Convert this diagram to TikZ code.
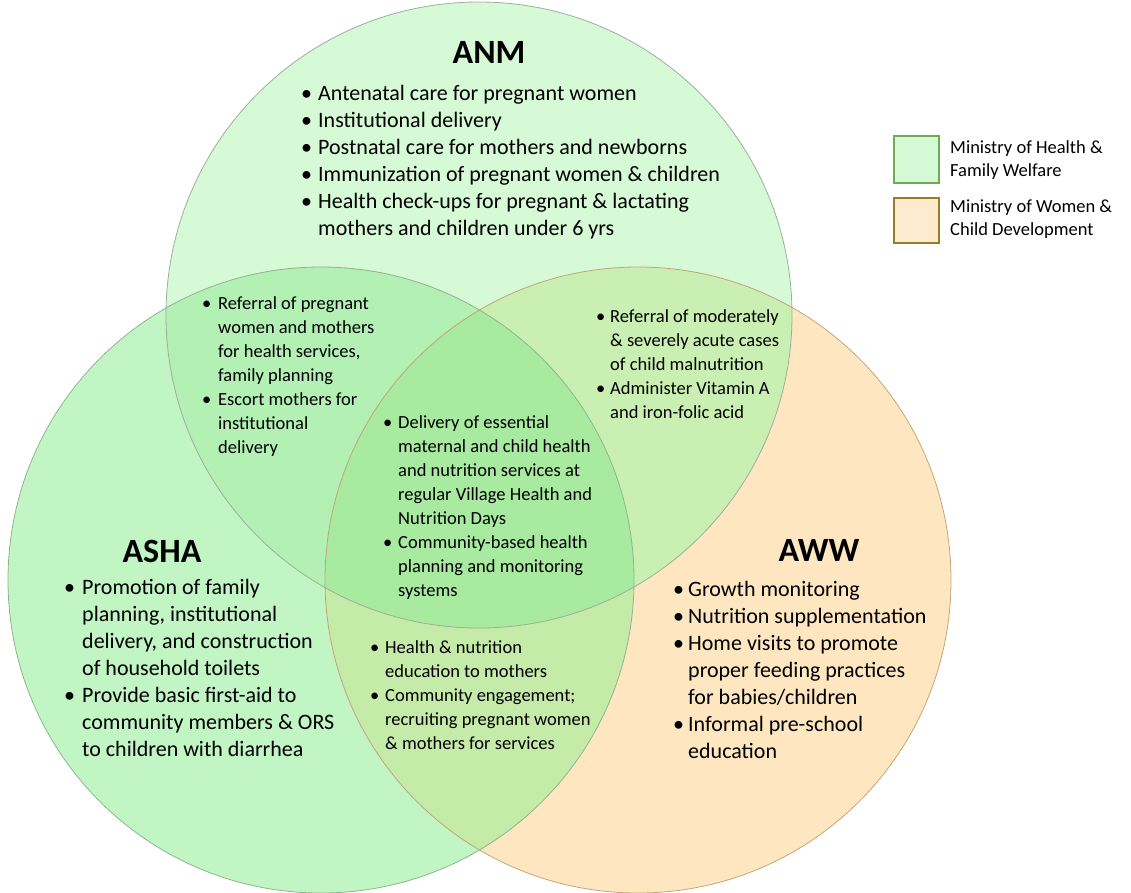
\documentclass[tikz,border=0pt]{standalone}
\usepackage{fontspec}
\setmainfont{Carlito}
\definecolor{anmF}{HTML}{D6F9D6}
\definecolor{ashaF}{HTML}{C2F5C4}
\definecolor{awwF}{HTML}{FEE7C0}
\definecolor{anmashaF}{HTML}{B3F0B3}
\definecolor{anmawwF}{HTML}{C9EFB3}
\definecolor{ashaawwF}{HTML}{C5EBA8}
\definecolor{allF}{HTML}{A8EAA0}
\definecolor{anmL}{HTML}{9DAF9D}
\definecolor{ashaL}{HTML}{8FB58F}
\definecolor{awwL}{HTML}{C2A678}
\definecolor{legG}{HTML}{D5F9D5}
\definecolor{legGL}{HTML}{6FAA55}
\definecolor{legO}{HTML}{FDEBCF}
\definecolor{legOL}{HTML}{9C7B27}
\newcommand{\bu}[1]{\makebox[#1][l]{\textbullet}}
\begin{document}
\begin{tikzpicture}[x=1pt,y=-1pt,
  big/.style={font=\fontsize{22}{27}\selectfont, anchor=base west, inner sep=0pt},
  small/.style={font=\fontsize{18.5}{24}\selectfont, anchor=base west, inner sep=0pt},
  ttl/.style={font=\fontsize{34}{40}\selectfont\bfseries, anchor=base, inner sep=0pt},
  leg/.style={font=\fontsize{18.5}{23}\selectfont, anchor=base west, inner sep=0pt},
  circ/.style={line width=0.8pt}]
\useasboundingbox (0,0) rectangle (1131,892);
\coordinate (cA) at (479,315);
\coordinate (cS) at (321,580);
\coordinate (cW) at (638,580);
% fills
\fill[anmF] (cA) circle[radius=313pt];
\fill[ashaF] (cS) circle[radius=313pt];
\fill[awwF] (cW) circle[radius=313pt];
\begin{scope}\clip (cA) circle[radius=313pt]; \fill[anmashaF] (cS) circle[radius=313pt]; \end{scope}
\begin{scope}\clip (cA) circle[radius=313pt]; \fill[anmawwF] (cW) circle[radius=313pt]; \end{scope}
\begin{scope}\clip (cS) circle[radius=313pt]; \fill[ashaawwF] (cW) circle[radius=313pt]; \end{scope}
\begin{scope}\clip (cA) circle[radius=313pt]; \clip (cS) circle[radius=313pt]; \fill[allF] (cW) circle[radius=313pt]; \end{scope}
% outlines
\draw[circ, anmL] (cA) circle[radius=313pt];
\draw[circ, ashaL] (cS) circle[radius=313pt];
\draw[circ, awwL] (cW) circle[radius=313pt];
% titles
\node[ttl] (tANM) at (489,63) {ANM};
\node[ttl] (tASHA) at (162,562) {ASHA};
\node[ttl] (tAWW) at (819,561) {AWW};
% lists
\node[big] (lANM) at (301,100) {\begin{tabular}[t]{@{}l@{}l@{}}
\bu{17pt} & Antenatal care for pregnant women\\
\bu{17pt} & Institutional delivery\\
\bu{17pt} & Postnatal care for mothers and newborns\\
\bu{17pt} & Immunization of pregnant women \& children\\
\bu{17pt} & Health check-ups for pregnant \& lactating\\
 & mothers and children under 6 yrs
\end{tabular}};
\node[big] (lASHA) at (64,594) {\begin{tabular}[t]{@{}l@{}l@{}}
\bu{18pt} & Promotion of family\\
 & planning, institutional\\
 & delivery, and construction\\
 & of household toilets\\
\bu{18pt} & Provide basic first-aid to\\
 & community members \& ORS\\
 & to children with diarrhea
\end{tabular}};
\node[big] (lAWW) at (673,596) {\begin{tabular}[t]{@{}l@{}l@{}}
\bu{15pt} & Growth monitoring\\
\bu{15pt} & Nutrition supplementation\\
\bu{15pt} & Home visits to promote\\
 & proper feeding practices\\
 & for babies/children\\
\bu{15pt} & Informal pre-school\\
 & education
\end{tabular}};
\node[small] (lAS) at (202,309) {\begin{tabular}[t]{@{}l@{}l@{}}
\bu{16pt} & Referral of pregnant\\
 & women and mothers\\
 & for health services,\\
 & family planning\\
\bu{16pt} & Escort mothers for\\
 & institutional\\
 & delivery
\end{tabular}};
\node[small] (lAW) at (596,322) {\begin{tabular}[t]{@{}l@{}l@{}}
\bu{14pt} & Referral of moderately\\
 & \& severely acute cases\\
 & of child malnutrition\\
\bu{14pt} & Administer Vitamin A\\
 & and iron-folic acid
\end{tabular}};
\node[small] (lALL) at (383,428) {\begin{tabular}[t]{@{}l@{}l@{}}
\bu{15pt} & Delivery of essential\\
 & maternal and child health\\
 & and nutrition services at\\
 & regular Village Health and\\
 & Nutrition Days\\
\bu{15pt} & Community-based health\\
 & planning and monitoring\\
 & systems
\end{tabular}};
\node[small] (lSW) at (370,653) {\begin{tabular}[t]{@{}l@{}l@{}}
\bu{15pt} & Health \& nutrition\\
 & education to mothers\\
\bu{15pt} & Community engagement;\\
 & recruiting pregnant women\\
 & \& mothers for services
\end{tabular}};
% legend
\node[draw=legGL, fill=legG, line width=1.8pt, minimum width=45pt, minimum height=47pt, inner sep=0pt, anchor=north west] (kG) at (893,135) {};
\node[draw=legOL, fill=legO, line width=1.8pt, minimum width=45pt, minimum height=45pt, inner sep=0pt, anchor=north west] (kO) at (893,197) {};
\node[leg] (kGt) at (950,153) {\begin{tabular}[t]{@{}l@{}}Ministry of Health \&\\Family Welfare\end{tabular}};
\node[leg] (kOt) at (950,212) {\begin{tabular}[t]{@{}l@{}}Ministry of Women \&\\Child Development\end{tabular}};
\end{tikzpicture}
\end{document}
